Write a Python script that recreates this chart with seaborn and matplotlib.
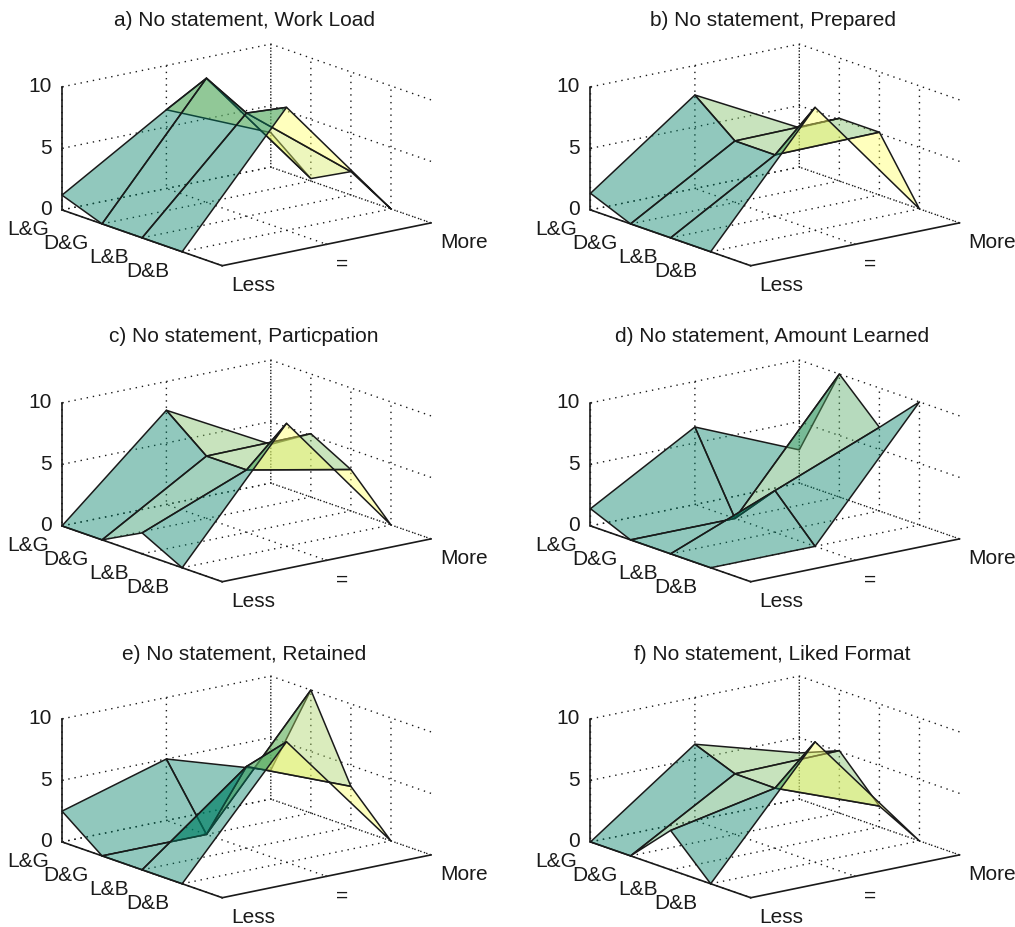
import numpy as np
import matplotlib
matplotlib.use("Agg")
import matplotlib.pyplot as plt
import seaborn as sns

groups = ['L&G', 'D&G', 'L&B', 'D&B']
levels = ['Less', '=', 'More']
z_ticks = [0, 5, 10]

titles = ['a) No statement, Work Load', 'b) No statement, Prepared',
          'c) No statement, Particpation', 'd) No statement, Amount Learned',
          'e) No statement, Retained', 'f) No statement, Liked Format']

# one row per group, columns are Less, =, More
work_load = [[1.2, 6.4, 2.8], [0, 10.1, 0.2], [0, 8.4, 1.9], [0, 10, 0]]
prepared = [[1.35, 7.6, 3.2], [0, 5, 5.1], [0, 5, 5.1], [0, 10, 0]]
participation = [[0, 7.66, 3.15], [0, 5.07, 5.15], [1.7, 5.08, 3.37], [0, 10, 0]]
amount_learned = [[1.4, 6.3, 2.7], [0, 0, 10], [0, 3.4, 6.8], [0, 0, 10]]
retained = [[2.5, 5, 2.35], [0, 0, 10], [0, 6.66, 3.3], [0, 9.8, 0]]
liked_format = [[0, 6.2, 3.75], [0, 4.93, 5.07], [3.2, 4.9, 1.7], [0, 9.8, 0]]

panels = [work_load, prepared, participation, amount_learned, retained, liked_format]

W, H = 1015, 927
col_x = [62, 590.5]
row_y = [209.5, 525.5, 841.5]
title_y = [21, 336.5, 654]
L = 382


def draw_panel(fig, values, title, x0, y0, ty):
    # y0 is the pixel row of the z=0 corner, the box centre sits above it
    cx = x0 + 184.5
    cy = y0 - 54.6
    left = (cx - 0.5135 * L) / W
    bottom = (H - cy - 0.5135 * L) / H
    ax = fig.add_axes([left, bottom, L / W, L / H], projection='3d')
    ax.patch.set_alpha(0)
    ax.set_proj_type('ortho')
    ax.view_init(elev=15.5, azim=-37.5)
    ax.set_box_aspect((1, 1, 0.485))
    ax.set_xlim(1, 5, view_margin=0)
    ax.set_ylim(1, 3, view_margin=0)
    ax.set_zlim(0, 10, view_margin=0)

    x = np.arange(1, len(groups) + 1)
    y = np.arange(1, len(levels) + 1)
    X, Y = np.meshgrid(x, y, indexing='ij')
    Z = np.array(values, dtype=float)

    # matlab flat shading, the colour comes from the next group's corner
    cmap = sns.color_palette('summer', as_cmap=True)
    colors = cmap(np.roll(Z, -1, axis=0) / 10)
    colors[..., 3] = 0.43
    surf = ax.plot_surface(X, Y, Z, facecolors=colors, rstride=1, cstride=1, shade=False)
    surf.set_edgecolor('k')
    surf.set_linewidth(1.1)

    ax.set_xticks(x)
    ax.set_xticklabels(groups)
    ax.set_yticks(y)
    ax.set_yticklabels(levels)
    ax.set_zticks(z_ticks)
    plt.setp(ax.get_xticklabels(), ha='right')
    plt.setp(ax.get_yticklabels(), ha='left')
    plt.setp(ax.get_zticklabels(), ha='right', va='center')
    ax.tick_params(axis='x', pad=1, labelsize=15, labelcolor='k')
    ax.tick_params(axis='y', pad=0, labelsize=15, labelcolor='k')
    ax.tick_params(axis='z', pad=-4, labelsize=15, labelcolor='k')
    ax.zaxis.set_ticks_position('lower')

    for axis in [ax.xaxis, ax.yaxis, ax.zaxis]:
        axis.set_pane_color((1, 1, 1, 0))
        axis.pane.set_edgecolor('none')
        axis.line.set_color('k')
        axis.line.set_linewidth(1.2)
        axis._axinfo['grid'].update(color='k', linewidth=1, linestyle=(0, (1, 3.5)))
        axis._axinfo['tick'].update(inward_factor=0.0, outward_factor=0.05)

    fig.text((x0 + 182) / W, 1 - ty / H, title, ha='center', va='center', fontsize=15, color='k')
    return ax


if __name__ == '__main__':
    sns.set_theme(style='white', font='Liberation Sans')

    fig = plt.figure(figsize=(W / 100, H / 100), dpi=100)
    for n, (values, title) in enumerate(zip(panels, titles)):
        draw_panel(fig, values, title, col_x[n % 2], row_y[n // 2], title_y[n // 2])

    plt.savefig('out.png', dpi=100)
    plt.close()
